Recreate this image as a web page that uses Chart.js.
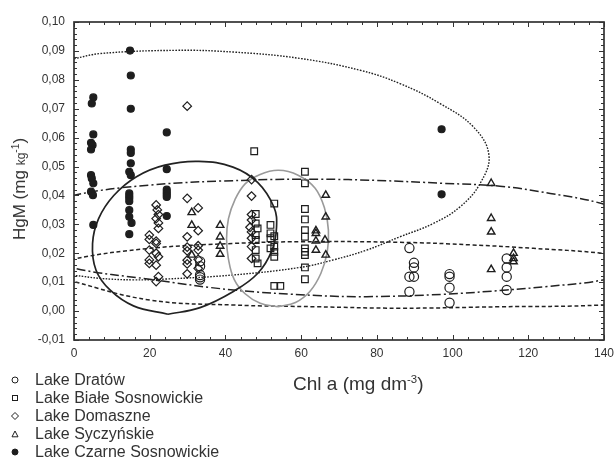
<!DOCTYPE html>
<html>
<head>
<meta charset="utf-8">
<title>HgM vs Chl a</title>
<script src="https://cdn.jsdelivr.net/npm/chart.js@4.4.1/dist/chart.umd.min.js"></script>
<style>
    body { margin: 0; background: #fff; }
    #wrap { position: relative; width: 615px; height: 459px; font-family: 'Liberation Sans', Arial, sans-serif; color: #333; }
    #yTitle { position: absolute; left: 20px; top: 189px; transform: translate(-50%, -50%) rotate(-90deg); font-size: 17px; white-space: nowrap; }
    #yTitle .small { font-size: 12px; }
    sup { font-size: 60%; vertical-align: 0.6em; line-height: 0; }
    #xTitle { position: absolute; left: 293px; top: 373px; font-size: 19px; line-height: 22px; white-space: nowrap; }
    #legend { position: absolute; left: 10px; top: 371px; margin: 0; padding: 0; list-style: none; font-size: 16px; }
    #legend li { height: 18px; line-height: 18px; display: flex; align-items: center; }
    #legend svg { width: 10px; height: 10px; margin-right: 15px; }
</style>
</head>
<body>
<div id="wrap">
    <canvas id="chart"></canvas>
    <div id="yTitle">HgM (mg <span class="small">kg</span><sup>-1</sup>)</div>
    <div id="xTitle">Chl a (mg dm<sup>-3</sup>)</div>
    <ul id="legend"></ul>
</div>
<script>
// Axis ranges
const xRange = [0, 140];
const yRange = [-0.01, 0.10];

// Measurements per lake: [Chl a, HgM]
const dratow = [
    [33.3, 0.0172], [33.3, 0.0155], [33.3, 0.0125], [33.3, 0.0117], [33.3, 0.0109],
    [88.6, 0.0218], [89.8, 0.0167], [89.8, 0.0151], [88.6, 0.0119], [89.8, 0.0119], [88.6, 0.0067],
    [99.2, 0.0128], [99.2, 0.0119], [99.2, 0.0081], [99.2, 0.0029],
    [114.3, 0.0182], [114.3, 0.0151], [114.3, 0.0119], [114.3, 0.0073]
];
const bialeSosnowickie = [
    [47.6, 0.0553], [61.0, 0.0482], [61.0, 0.0442], [52.9, 0.0372], [61.0, 0.0353], [61.0, 0.0317],
    [48.0, 0.0336], [48.0, 0.0303], [48.5, 0.0286], [51.9, 0.0298], [51.9, 0.0269], [52.9, 0.0259],
    [48.0, 0.0263], [48.0, 0.0246], [51.9, 0.0252], [61.0, 0.0280], [61.0, 0.0257], [61.0, 0.0217],
    [61.0, 0.0205], [61.0, 0.0194], [61.0, 0.0151], [52.9, 0.0223], [52.9, 0.0205], [52.9, 0.0188],
    [48.0, 0.0211], [48.0, 0.0182], [48.5, 0.0165], [51.9, 0.0217], [61.0, 0.0110], [52.9, 0.0087],
    [54.5, 0.0087]
];
const domaszne = [
    [29.9, 0.0709],
    [21.7, 0.0367], [22.0, 0.0350], [22.3, 0.0334], [21.7, 0.0320], [22.3, 0.0305], [22.3, 0.0286],
    [19.9, 0.0263], [19.9, 0.0248], [21.7, 0.0242], [21.7, 0.0234], [19.9, 0.0211], [21.7, 0.0200],
    [22.3, 0.0188], [19.9, 0.0177], [19.9, 0.0165], [21.7, 0.0159], [22.3, 0.0119], [21.7, 0.0102],
    [29.9, 0.0390], [32.8, 0.0357], [32.8, 0.0278], [29.9, 0.0257], [29.9, 0.0221], [29.9, 0.0208],
    [32.8, 0.0226], [32.8, 0.0211], [29.9, 0.0176], [29.9, 0.0163], [32.8, 0.0179], [29.9, 0.0129],
    [32.8, 0.0148],
    [46.9, 0.0455], [46.9, 0.0398], [46.9, 0.0334], [46.9, 0.0315], [46.5, 0.0290], [46.9, 0.0274],
    [46.9, 0.0252], [46.9, 0.0223], [46.9, 0.0182]
];
const syczynskie = [
    [31.1, 0.0341], [31.1, 0.0297], [31.1, 0.0194],
    [38.6, 0.0297], [38.6, 0.0257], [38.6, 0.0225], [38.6, 0.0197],
    [66.5, 0.0401], [66.5, 0.0326], [63.9, 0.0278], [63.9, 0.0269], [63.9, 0.0243], [66.3, 0.0246],
    [63.9, 0.0211], [66.5, 0.0194],
    [110.2, 0.0442], [110.2, 0.0321], [110.2, 0.0274], [110.2, 0.0144],
    [116.1, 0.0200], [116.1, 0.0182], [116.1, 0.0171]
];
const czarneSosnowickie = [
    [5.1, 0.0739], [4.7, 0.0718], [5.1, 0.0611], [4.5, 0.0582], [4.9, 0.0574], [4.5, 0.0559],
    [4.5, 0.0470], [4.7, 0.0459], [5.1, 0.0442], [4.5, 0.0413], [5.0, 0.0401], [5.1, 0.0298],
    [14.8, 0.0901], [15.0, 0.0815], [15.0, 0.0700], [15.0, 0.0559], [15.0, 0.0547], [15.0, 0.0511],
    [14.6, 0.0482], [15.0, 0.0470], [14.6, 0.0407], [14.6, 0.0398], [14.6, 0.0390], [14.6, 0.0380],
    [14.6, 0.0349], [14.6, 0.0326], [15.2, 0.0305], [14.6, 0.0266],
    [24.5, 0.0618], [24.5, 0.0491], [24.5, 0.0420], [24.5, 0.0411], [24.5, 0.0403], [24.5, 0.0395],
    [24.5, 0.0329],
    [97.1, 0.0629], [97.1, 0.0404]
];

// Confidence ellipses, traced round their outline
const ellipseSolid = [
    [24.8, -0.0011], [33.3, 0.0012], [42.1, 0.0068], [48.5, 0.0130], [52.3, 0.0210], [53.5, 0.0290],
    [52.8, 0.0360], [48.5, 0.0445], [42.0, 0.0498], [33.0, 0.0518], [24.0, 0.0505], [16.5, 0.0465],
    [10.5, 0.0400], [6.5, 0.0320], [4.9, 0.0234], [5.8, 0.0142], [9.5, 0.0073], [15.7, 0.0018],
    [24.8, -0.0011]
];
const ellipseGray = [
    [53.8, 0.0015], [58.5, 0.0030], [62.3, 0.0068], [65.2, 0.0130], [66.9, 0.0205], [67.2, 0.0280],
    [66.2, 0.0355], [63.7, 0.0425], [59.2, 0.0470], [54.0, 0.0487], [49.0, 0.0472], [45.2, 0.0440],
    [42.5, 0.0385], [40.8, 0.0320], [40.3, 0.0250], [40.8, 0.0180], [42.3, 0.0110], [45.2, 0.0060],
    [49.2, 0.0027], [53.8, 0.0015]
];
const ellipseDotted = [
    [-67, 0.046], [-66, 0.038], [-60, 0.030], [-48, 0.022], [-33, 0.0165], [-17, 0.0132],
    [0, 0.0123], [7, 0.0113], [15.7, 0.0108], [24.5, 0.0111], [42.1, 0.0125], [59.7, 0.0151],
    [68.5, 0.0177], [77.3, 0.0211], [86.1, 0.0257], [94.9, 0.0303], [102, 0.0361], [107.3, 0.0442],
    [109.6, 0.0540], [105.5, 0.0637], [96.7, 0.0718], [86.1, 0.0787], [75.6, 0.0833], [59.7, 0.0874],
    [42.1, 0.0896], [27, 0.0902], [7, 0.0891], [0, 0.0873], [-17, 0.0830], [-33, 0.0770],
    [-45, 0.0710], [-55, 0.0630], [-63, 0.0540], [-67, 0.046]
];
const ellipseDashDot = [
    [-20, 0.0270], [-13, 0.0350], [0, 0.0401], [20, 0.0436], [46.5, 0.0453], [65, 0.0456],
    [80, 0.0452], [97.5, 0.0442], [112.5, 0.0432], [125.8, 0.0407], [139.4, 0.0372], [150, 0.0320],
    [156, 0.0240], [151, 0.0150], [139.4, 0.0107], [125, 0.0085], [114.3, 0.0073], [97.5, 0.0058],
    [77.3, 0.0050], [64.1, 0.0054], [42.1, 0.0073], [20, 0.0110], [0, 0.0148], [-13, 0.0200],
    [-20, 0.0270]
];
const ellipseDashed = [
    [-9, 0.0140], [0, 0.0180], [20, 0.0217], [42, 0.0234], [60, 0.0240], [86, 0.0238],
    [105, 0.0229], [121.3, 0.0217], [139.4, 0.0200], [158, 0.0165], [172, 0.0110], [160, 0.0045],
    [139.4, 0.0021], [112.5, 0.0015], [86.1, 0.0010], [64.1, 0.0015], [42.1, 0.0021], [20.1, 0.0038],
    [0, 0.0102], [-9, 0.0140]
];

const toPoints = arr => arr.map(([x, y]) => ({ x, y }));

const ink = '#1e1e1e';

const lakes = [
    { label: 'Lake Dratów', data: dratow, style: 'circle', radius: 4.6, fill: false },
    { label: 'Lake Białe Sosnowickie', data: bialeSosnowickie, style: 'rect', radius: 4.7, fill: false },
    { label: 'Lake Domaszne', data: domaszne, style: 'rectRot', radius: 4.3, fill: false },
    { label: 'Lake Syczyńskie', data: syczynskie, style: 'triangle', radius: 4.3, fill: false },
    { label: 'Lake Czarne Sosnowickie', data: czarneSosnowickie, style: 'circle', radius: 3.5, fill: true }
];

const ellipses = [
    { data: ellipseSolid, color: '#222', width: 1.7, dash: [] },
    { data: ellipseGray, color: '#9a9a9a', width: 1.6, dash: [] },
    { data: ellipseDotted, color: '#222', width: 1.4, dash: [1.6, 1.4] },
    { data: ellipseDashDot, color: '#222', width: 1.5, dash: [9, 3, 2, 3] },
    { data: ellipseDashed, color: '#222', width: 1.5, dash: [4, 2.6] }
];

const datasets = [];
lakes.forEach(l => {
    datasets.push({
        label: l.label,
        data: toPoints(l.data),
        showLine: false,
        pointStyle: l.style,
        pointRadius: l.radius,
        pointBorderWidth: l.style === 'triangle' ? 1.4 : 1.2,
        borderColor: ink,
        backgroundColor: l.fill ? ink : 'rgba(0,0,0,0)'
    });
});
ellipses.forEach((e, i) => {
    datasets.push({
        label: 'ellipse' + i,
        data: toPoints(e.data),
        showLine: true,
        pointRadius: 0,
        borderColor: e.color,
        borderWidth: e.width,
        borderDash: e.dash,
        tension: 0.4,
        capBezierPoints: false,
        fill: false
    });
});

// Box frame with inward ticks on all four sides
const frameTicks = {
    id: 'frameTicks',
    afterDatasetsDraw(chart) {
        const { ctx, chartArea: a, scales: { x, y } } = chart;
        ctx.save();
        ctx.strokeStyle = '#333';
        ctx.lineWidth = 1;
        ctx.beginPath();
        for (let i = 0; i <= 35; i++) {
            const px = Math.round(x.getPixelForValue(i * 4)) + 0.5;
            const len = i % 5 === 0 ? 5 : 3;
            ctx.moveTo(px, a.bottom); ctx.lineTo(px, a.bottom - len);
            ctx.moveTo(px, a.top); ctx.lineTo(px, a.top + len);
        }
        for (let i = 0; i <= 55; i++) {
            const py = Math.round(y.getPixelForValue(-0.01 + i * 0.002)) + 0.5;
            const len = i % 5 === 0 ? 5 : 3;
            ctx.moveTo(a.left, py); ctx.lineTo(a.left + len, py);
            ctx.moveTo(a.right, py); ctx.lineTo(a.right - len, py);
        }
        ctx.stroke();
        ctx.lineWidth = 1.7;
        ctx.strokeRect(a.left, a.top, a.right - a.left, a.bottom - a.top);
        ctx.restore();
    }
};

const tickFont = { family: "'Liberation Sans', Arial, sans-serif", size: 12 };

new Chart(document.getElementById('chart'), {
    type: 'scatter',
    data: { datasets },
    options: {
        responsive: true,
        maintainAspectRatio: false,
        animation: false,
        layout: { padding: { top: 22, right: 0, bottom: 0, left: 0 } },
        elements: { line: { capBezierPoints: false } },
        plugins: {
            legend: { display: false },
            tooltip: { enabled: false }
        },
        scales: {
            x: {
                type: 'linear',
                min: xRange[0],
                max: xRange[1],
                grid: { display: false, drawTicks: false },
                border: { display: false },
                ticks: { stepSize: 20, padding: 6, color: '#333', font: tickFont },
                afterFit: s => {
                    s.height = 119;
                    s.paddingLeft = 0;
                    s.paddingRight = 11;
                }
            },
            y: {
                type: 'linear',
                min: yRange[0],
                max: yRange[1],
                grid: { display: false, drawTicks: false },
                border: { display: false },
                ticks: {
                    stepSize: 0.01,
                    padding: 9,
                    color: '#333',
                    font: tickFont,
                    callback: v => (Math.abs(v) < 1e-9 ? 0 : v).toFixed(2).replace('.', ',')
                },
                afterFit: s => { s.width = 74; }
            }
        }
    },
    plugins: [frameTicks]
});

// Legend list below the plot
const markerSvg = l => {
    const c = ink;
    if (l.style === 'rect') return `<svg viewBox="0 0 10 10"><rect x="2.5" y="2.5" width="5" height="5" fill="none" stroke="${c}" stroke-width="1"/></svg>`;
    if (l.style === 'rectRot') return `<svg viewBox="0 0 10 10"><path d="M5 1.5 L8.5 5 L5 8.5 L1.5 5 Z" fill="none" stroke="${c}" stroke-width="1"/></svg>`;
    if (l.style === 'triangle') return `<svg viewBox="0 0 10 10"><path d="M5 2 L8 7.8 L2 7.8 Z" fill="none" stroke="${c}" stroke-width="1"/></svg>`;
    return `<svg viewBox="0 0 10 10"><circle cx="5" cy="5" r="3" fill="${l.fill ? c : 'none'}" stroke="${c}" stroke-width="1"/></svg>`;
};
const legendEl = document.getElementById('legend');
lakes.forEach(l => {
    const li = document.createElement('li');
    li.innerHTML = markerSvg(l) + '<span>' + l.label + '</span>';
    legendEl.appendChild(li);
});
</script>
</body>
</html>
